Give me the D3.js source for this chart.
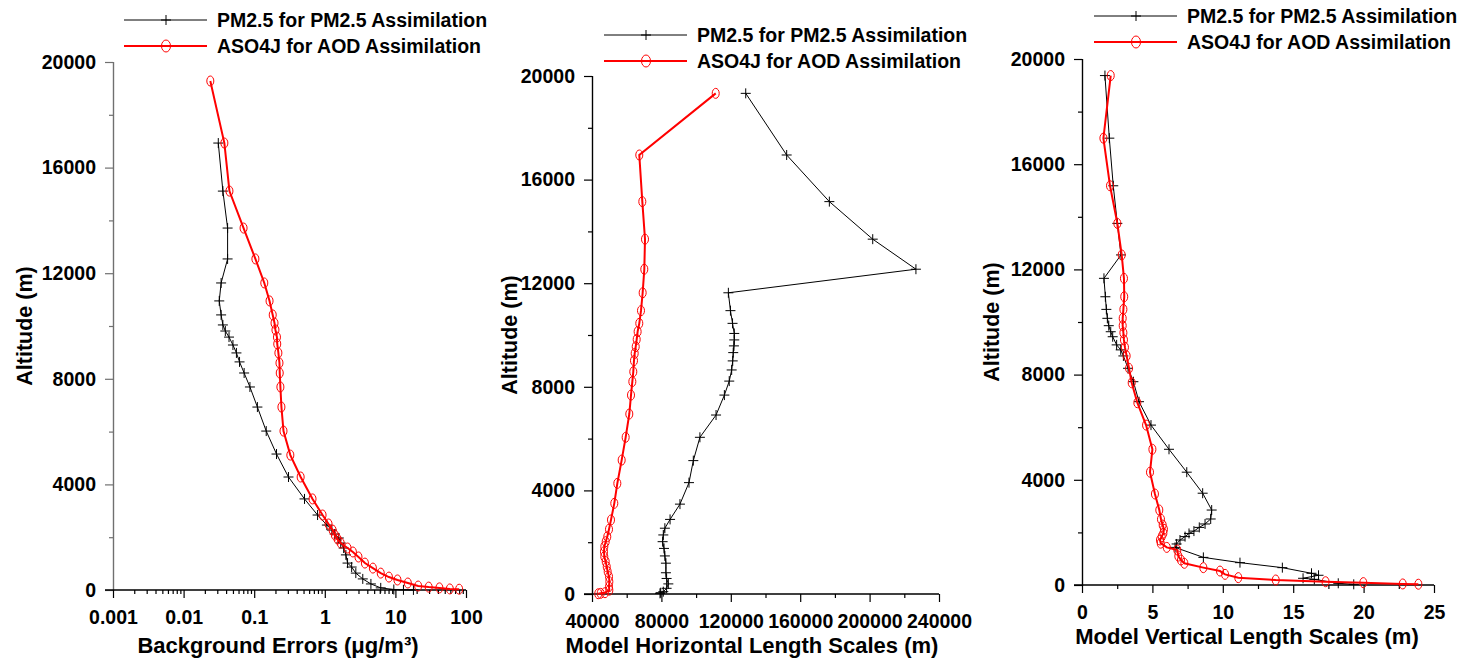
<!DOCTYPE html>
<html>
<head>
<meta charset="utf-8">
<script src="https://cdn.jsdelivr.net/npm/d3@7"></script>
<style>
  body { margin: 0; background: #fff; }
  text { font-family: Arial, "Liberation Sans", sans-serif; font-weight: bold; fill: #000; }
</style>
</head>
<body>
<script>
// [altitude (m), value]
var bgErrPm25 = [[16930,0.031],[15110,0.036],[13710,0.042],[12540,0.042],[11630,0.034],[10950,0.032],[10420,0.034],[10040,0.036],[9810,0.039],[9580,0.044],[9280,0.050],[8980,0.056],[8640,0.062],[8220,0.072],[7690,0.087],[6930,0.111],[6020,0.148],[5150,0.207],[4280,0.306],[3450,0.516],[2840,0.79],[2460,1.07],[2270,1.26],[2120,1.38],[1970,1.58],[1780,1.68],[1590,1.85],[1330,1.99],[1020,2.1],[870,2.4],[640,2.75],[420,3.45],[230,4.5],[80,6.2],[20,9.5],[8,13],[3,18]];
var bgErrAso4j = [[19280,0.0239],[16930,0.0378],[15110,0.0446],[13710,0.0707],[12540,0.104],[11630,0.139],[10950,0.165],[10420,0.183],[10110,0.194],[9850,0.2],[9580,0.21],[9320,0.212],[8980,0.22],[8600,0.228],[8220,0.23],[7690,0.235],[6930,0.243],[6020,0.26],[5110,0.325],[4280,0.455],[3450,0.67],[2840,0.93],[2500,1.13],[2270,1.29],[2080,1.39],[1930,1.52],[1780,1.68],[1590,2.1],[1440,2.5],[1250,3.0],[1020,3.7],[830,4.8],[640,6.2],[490,8.1],[380,10.7],[265,15],[150,21],[110,29.6],[80,42],[40,59],[30,80]];

var hlsPm25 = [[19330,128600],[16950,152200],[15150,176800],[13700,201800],[12540,226700],[11630,118600],[10940,119800],[10450,121000],[10060,122000],[9810,122000],[9580,121800],[9320,121400],[9000,121100],[8650,120500],[8220,119100],[7680,116300],[6910,111500],[6050,102200],[5150,98400],[4300,95900],[3470,90700],[2880,85000],[2540,82000],[2280,81100],[2020,80700],[1760,81500],[1470,82000],[1190,82600],[820,82600],[600,83000],[390,84000],[220,83000],[90,81100],[50,79600],[25,79200]];
var hlsAso4j = [[19330,111300],[16950,67260],[15150,69000],[13700,70550],[12540,70150],[11630,69200],[10940,68240],[10450,67260],[10130,66300],[9830,65760],[9550,65200],[9290,64600],[9010,64200],[8580,63800],[8200,63250],[7680,62480],[6950,61500],[6050,59400],[5170,57100],[4270,54600],[3500,52850],[2860,50950],[2500,49800],[2210,48800],[2020,47900],[1830,47100],[1630,46900],[1440,47100],[1250,47900],[1050,48500],[860,49050],[670,49800],[475,50000],[280,49800],[150,50000],[50,47500],[25,45000],[10,43600]];

var vlsPm25 = [[19370,1.63],[16990,1.94],[15180,2.22],[13750,2.51],[12550,2.77],[11660,1.56],[10960,1.66],[10480,1.73],[10140,1.80],[9860,1.90],[9630,2.04],[9440,2.18],[9130,2.46],[8940,2.75],[8710,2.94],[8240,3.27],[7730,3.65],[6970,4.05],[6080,4.90],[5160,6.18],[4290,7.44],[3490,8.57],[2850,9.21],[2510,9.14],[2320,8.74],[2190,8.33],[2050,7.95],[1960,7.60],[1840,7.32],[1710,6.96],[1560,6.72],[1430,6.61],[1050,8.62],[850,11.22],[660,14.23],[445,16.3],[370,16.8],[255,15.7],[215,16.5],[65,18.2],[25,19.3]];
var vlsAso4j = [[19370,2.04],[16990,1.52],[15180,1.99],[13750,2.51],[12550,2.82],[11660,2.98],[10960,3.0],[10480,2.94],[10140,2.89],[9860,2.89],[9590,2.94],[9320,2.98],[9040,3.05],[8710,3.17],[8240,3.34],[7690,3.53],[6930,3.93],[6080,4.55],[5160,5.0],[4290,4.83],[3460,5.18],[2850,5.49],[2500,5.61],[2280,5.73],[2120,5.82],[1970,5.78],[1840,5.66],[1710,5.54],[1590,5.59],[1430,6.02],[1330,6.77],[1100,6.84],[950,7.03],[825,7.27],[660,8.62],[530,9.8],[405,10.16],[280,11.1],[190,13.76],[125,17.3],[90,19.98],[40,22.78],[30,23.89]];

var seriesNames = ["PM2.5 for PM2.5 Assimilation", "ASO4J for AOD Assimilation"];
var altTicks = [0, 4000, 8000, 12000, 16000, 20000];
var altMinor = [2000, 6000, 10000, 14000, 18000];
var bgTicks = [0.001, 0.01, 0.1, 1, 10, 100];
var hlsTicks = [40000, 80000, 120000, 160000, 200000, 240000];
var hlsMinor = [60000, 100000, 140000, 180000, 220000];
var vlsTicks = [0, 5, 10, 15, 20, 25];
var vlsMinor = [2.5, 7.5, 12.5, 17.5, 22.5];

var svg = d3.select("body").append("svg")
            .attr("width", 1473)
            .attr("height", 661);

var panels = [
  { x0: 113, x1: 466, y0: 590, y1: 62, log: true, domain: [0.001, 100],
    ticks: bgTicks, black: bgErrPm25, red: bgErrAso4j, yAxisColor: "#707070",
    xTitle: "Background Errors (\u03bcg/m\u00b3)", xTitleX: 278, xTitleY: 653,
    yTitleX: 32, legX: 124, legY: 20 },
  { x0: 592, x1: 939, y0: 594, y1: 76, log: false, domain: [40000, 240000],
    ticks: hlsTicks, minor: hlsMinor, black: hlsPm25, red: hlsAso4j, yAxisColor: "#000",
    xTitle: "Model Horizontal Length Scales (m)", xTitleX: 752, xTitleY: 653,
    yTitleX: 517, legX: 604, legY: 35 },
  { x0: 1082, x1: 1434, y0: 585, y1: 59, log: false, domain: [0, 25],
    ticks: vlsTicks, minor: vlsMinor, black: vlsPm25, red: vlsAso4j, yAxisColor: "#000",
    xTitle: "Model Vertical Length Scales (m)", xTitleX: 1247, xTitleY: 644,
    yTitleX: 999, legX: 1094, legY: 16 }
];

var cross = "M-5,0H5M0,-5V5";

panels.forEach(function(p) {
  var x = (p.log ? d3.scaleLog() : d3.scaleLinear())
            .domain(p.domain)
            .range([p.x0, p.x1]);
  var y = d3.scaleLinear()
            .domain([0, 20000])
            .range([p.y0, p.y1]);

  // y axis
  var gy = svg.append("g").attr("transform", "translate(" + p.x0 + ",0)");
  gy.call(d3.axisLeft(y).tickValues(altTicks).tickSize(8).tickPadding(9).tickFormat(d3.format("d")));
  gy.append("g").call(d3.axisLeft(y).tickValues(altMinor).tickSize(4).tickFormat(""));
  gy.selectAll("path, line").attr("stroke", p.yAxisColor).attr("stroke-width", 1.2);
  gy.selectAll("text").style("font-size", "19.5px");

  // x axis
  var gx = svg.append("g").attr("transform", "translate(0," + p.y0 + ")");
  var fmt = p.log ? function(d) { return String(d); } : d3.format("d");
  gx.call(d3.axisBottom(x).tickValues(p.ticks).tickSize(8).tickPadding(12).tickFormat(fmt));
  var minor = p.minor;
  if (p.log) {
    minor = [];
    for (var e = -3; e < 2; e++) {
      for (var k = 2; k < 10; k++) minor.push(k * Math.pow(10, e));
    }
  }
  gx.append("g").call(d3.axisBottom(x).tickValues(minor).tickSize(4).tickFormat(""));
  gx.selectAll(".domain").attr("d", "M" + (p.x0 - 8) + ",0H" + p.x1);
  gx.selectAll("path, line").attr("stroke", "#000").attr("stroke-width", 1.2);
  gx.selectAll("text").style("font-size", "19.5px");

  // titles
  svg.append("text")
     .attr("x", p.xTitleX).attr("y", p.xTitleY)
     .attr("text-anchor", "middle")
     .style("font-size", "22px")
     .text(p.xTitle);
  svg.append("text")
     .attr("transform", "translate(" + p.yTitleX + "," + ((p.y0 + p.y1) / 2) + ") rotate(-90)")
     .attr("text-anchor", "middle")
     .style("font-size", "21.5px")
     .text("Altitude (m)");

  var line = d3.line()
               .x(function(d) { return x(d[1]); })
               .y(function(d) { return y(d[0]); });

  // black series
  svg.append("path")
     .attr("d", line(p.black))
     .attr("fill", "none")
     .attr("stroke", "#000")
     .attr("stroke-width", 1);
  svg.append("g").selectAll("path")
     .data(p.black)
     .enter()
     .append("path")
     .attr("d", cross)
     .attr("transform", function(d) { return "translate(" + x(d[1]) + "," + y(d[0]) + ")"; })
     .attr("stroke", "#000")
     .attr("stroke-width", 1);

  // red series
  svg.append("path")
     .attr("d", line(p.red))
     .attr("fill", "none")
     .attr("stroke", "#ff0000")
     .attr("stroke-width", 2);
  svg.append("g").selectAll("ellipse")
     .data(p.red)
     .enter()
     .append("ellipse")
     .attr("cx", function(d) { return x(d[1]); })
     .attr("cy", function(d) { return y(d[0]); })
     .attr("rx", 3.5)
     .attr("ry", 5)
     .attr("fill", "none")
     .attr("stroke", "#ff0000")
     .attr("stroke-width", 1);

  // legend
  var leg = svg.append("g").attr("transform", "translate(" + p.legX + "," + p.legY + ")");
  leg.append("line").attr("x1", 0).attr("x2", 83).attr("y1", 0).attr("y2", 0)
     .attr("stroke", "#000").attr("stroke-width", 1);
  leg.append("path").attr("d", cross).attr("transform", "translate(42,0)")
     .attr("stroke", "#000").attr("stroke-width", 1);
  leg.append("line").attr("x1", 0).attr("x2", 83).attr("y1", 26).attr("y2", 26)
     .attr("stroke", "#ff0000").attr("stroke-width", 2);
  leg.append("ellipse").attr("cx", 42).attr("cy", 26).attr("rx", 4.5).attr("ry", 6)
     .attr("fill", "none").attr("stroke", "#ff0000").attr("stroke-width", 1);
  leg.selectAll("text")
     .data(seriesNames)
     .enter()
     .append("text")
     .attr("x", 93)
     .attr("y", function(d, i) { return i * 26; })
     .attr("dy", "0.35em")
     .style("font-size", "19.5px")
     .text(function(d) { return d; });
});
</script>
</body>
</html>
